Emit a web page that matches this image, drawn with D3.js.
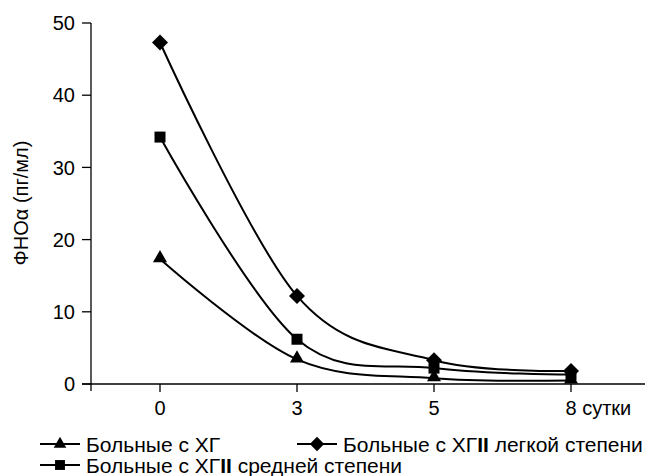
<!DOCTYPE html>
<html lang="ru">
<head>
    <meta charset="UTF-8">
    <title>ФНОα</title>
    <style>
        body { margin: 0; background: #ffffff; }
        svg { display: block; background: #ffffff; font-family: "Liberation Sans", Arial, sans-serif; }
    </style>
    <script src="https://d3js.org/d3.v7.min.js"></script>
</head>
<body>
    <svg width="651" height="476"></svg>
    <script>
        // data
        const days = ["0", "3", "5", "8"];
        const yTicks = [0, 10, 20, 30, 40, 50];
        const hgMild = [47.3, 12.2, 3.3, 1.8];     // diamonds
        const hgModerate = [34.2, 6.2, 2.2, 1.3];  // squares
        const hg = [17.3, 3.4, 0.8, 0.5];          // triangles

        const series = [
            { name: "hg", values: hg, shape: "triangle" },
            { name: "moderate", values: hgModerate, shape: "square" },
            { name: "mild", values: hgMild, shape: "diamond" }
        ];

        const svg = d3.select("svg");
        const axisLeft = 91, axisRight = 645;
        const plotTop = 23, plotBottom = 384;

        const x = d3.scalePoint().domain(days).range([160, 571]);
        const y = d3.scaleLinear().domain([0, 50]).range([plotBottom, plotTop]);

        const ink = "#000";

        // y axis
        svg.append("line")
            .attr("x1", axisLeft).attr("x2", axisLeft)
            .attr("y1", plotTop).attr("y2", plotBottom + 7)
            .attr("stroke", ink).attr("stroke-width", 1.3);

        yTicks.forEach(t => {
            svg.append("line")
                .attr("x1", axisLeft - 9).attr("x2", axisLeft)
                .attr("y1", y(t)).attr("y2", y(t))
                .attr("stroke", ink).attr("stroke-width", 1.3);
            svg.append("text")
                .attr("x", axisLeft - 16).attr("y", y(t))
                .attr("dy", "0.36em")
                .attr("text-anchor", "end")
                .attr("font-size", 20)
                .text(t);
        });

        // x axis
        svg.append("line")
            .attr("x1", axisLeft - 9).attr("x2", axisRight)
            .attr("y1", plotBottom).attr("y2", plotBottom)
            .attr("stroke", ink).attr("stroke-width", 1.3);

        days.forEach((d, i) => {
            svg.append("line")
                .attr("x1", x(d)).attr("x2", x(d))
                .attr("y1", plotBottom).attr("y2", plotBottom + 8)
                .attr("stroke", ink).attr("stroke-width", 1.3);
            const last = i === days.length - 1;
            svg.append("text")
                .attr("x", last ? x(d) - 5.5 : x(d))
                .attr("y", 415)
                .attr("text-anchor", last ? "start" : "middle")
                .attr("font-size", 20)
                .text(last ? d + " сутки" : d);
        });

        // y label
        svg.append("text")
            .attr("transform", "translate(28,203) rotate(-90)")
            .attr("text-anchor", "middle")
            .attr("font-size", 20)
            .text("ФНОα (пг/мл)");

        // markers
        function marker(g, shape) {
            if (shape === "triangle") {
                return g.append("path").attr("d", d3.symbol(d3.symbolTriangle, 85)()).attr("transform", "translate(0,-1)");
            } else if (shape === "square") {
                return g.append("path").attr("d", d3.symbol(d3.symbolSquare, 121)());
            }
            return g.append("path").attr("d", d3.symbol(d3.symbolSquare, 128)()).attr("transform", "rotate(45)");
        }

        const line = d3.line()
            .x((v, i) => x(days[i]))
            .y(v => y(v))
            .curve(d3.curveCardinal.tension(0));

        series.forEach(s => {
            svg.append("path")
                .attr("d", line(s.values))
                .attr("fill", "none")
                .attr("stroke", ink)
                .attr("stroke-width", 2);
            s.values.forEach((v, i) => {
                const g = svg.append("g")
                    .attr("transform", `translate(${x(days[i])},${y(v)})`);
                marker(g, s.shape).attr("fill", ink);
            });
        });

        // legend
        const legend = [
            { shape: "triangle", x: 40, y: 444, label: ["Больные с ХГ"] },
            { shape: "diamond", x: 297, y: 444, label: ["Больные с ХГ", "II", " легкой степени"] },
            { shape: "square", x: 40, y: 465, label: ["Больные с ХГ", "II", " средней степени"] }
        ];

        legend.forEach(l => {
            svg.append("line")
                .attr("x1", l.x).attr("x2", l.x + 40)
                .attr("y1", l.y).attr("y2", l.y)
                .attr("stroke", ink).attr("stroke-width", 2);
            const g = svg.append("g").attr("transform", `translate(${l.x + 20},${l.y})`);
            marker(g, l.shape).attr("fill", ink)
                .attr("transform", (l.shape === "diamond" ? "rotate(45) " : "") + "scale(0.9)");
            const t = svg.append("text")
                .attr("x", l.x + 46).attr("y", l.y)
                .attr("dy", "0.36em")
                .attr("font-size", 21);
            l.label.forEach((part, j) => {
                t.append("tspan")
                    .attr("font-weight", j === 1 ? "bold" : null)
                    .text(part);
            });
        });
    </script>
</body>
</html>
